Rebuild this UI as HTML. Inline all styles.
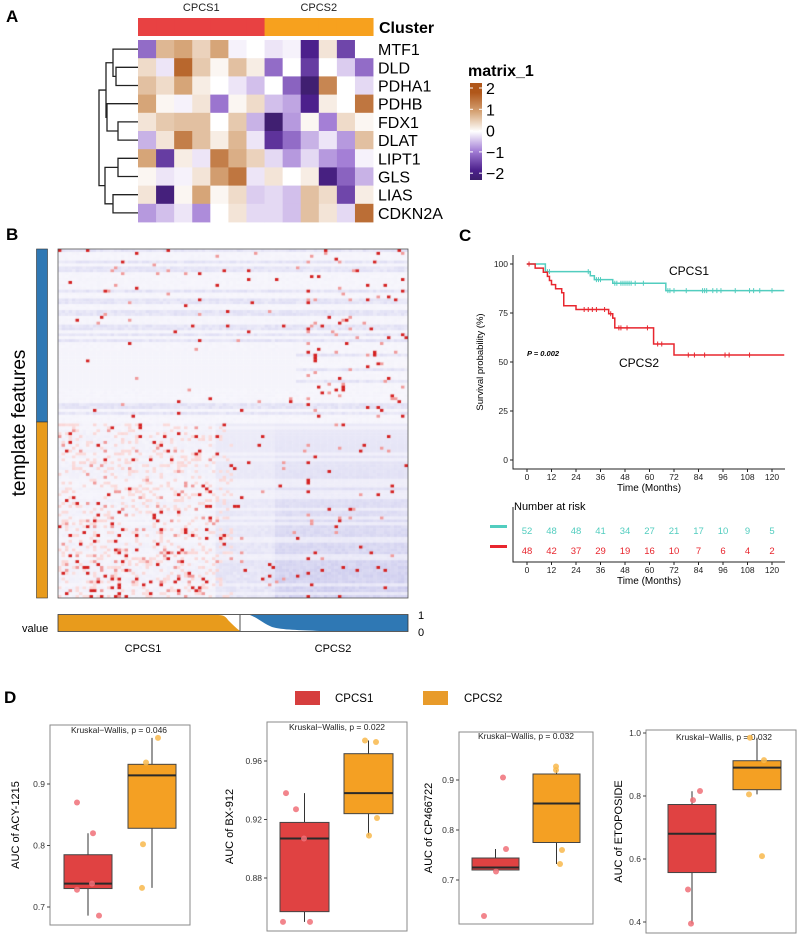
<!DOCTYPE html>
<html><head><meta charset="utf-8">
<style>
html,body{margin:0;padding:0;background:#fff;}
#wrap{position:relative;width:797px;height:935px;overflow:hidden;font-family:"Liberation Sans",Arial,sans-serif;}
svg{position:absolute;left:0;top:0;}
#hmB{position:absolute;left:58px;top:249px;}
</style></head><body>
<div id="wrap">
<canvas id="hmB" width="350" height="349"></canvas>
<svg id="fig" width="797" height="935" xmlns="http://www.w3.org/2000/svg" font-family="Liberation Sans, Arial, sans-serif">
  <g font-weight="bold" font-size="17" fill="#000">
    <text x="6" y="22">A</text>
    <text x="6" y="240">B</text>
    <text x="459" y="241">C</text>
    <text x="4" y="703">D</text>
  </g>
  <g id="gA"></g>
  <g id="gB"></g>
  <g id="gC"></g>
  <g id="gD"></g>
</svg>
</div>
<script>
// ---------- Panel A data ----------
const genes = ["MTF1","DLD","PDHA1","PDHB","FDX1","DLAT","LIPT1","GLS","LIAS","CDKN2A"];
const sampleCluster = [1,1,1,1,1,1,1,2,2,2,2,2,2];
const expr_MTF1  = [-1.2,0.8,1.0,0.5,1.0,-0.1,0,-0.2,-0.1,-2,0.3,-1.6,0];
const expr_DLD   = [0.4,-0.2,1.8,0.6,0.1,0.7,0.2,-1.2,0,-1.7,0,-0.4,-1.2];
const expr_PDHA1 = [0.7,0.4,1.0,0.2,0,-0.2,-0.5,0,-1.3,-2.5,1.4,0,-0.3];
const expr_PDHB  = [1.0,0.1,-0.1,0.3,-1.1,0.1,0.4,-0.5,-0.7,-2,0.2,0,1.6];
const expr_FDX1  = [0.3,0.6,0.7,0.7,0,0.6,-0.6,-2.5,-0.8,0.1,-1.0,0.4,0.1];
const expr_DLAT  = [-0.6,0.3,1.5,0.7,0.2,0.8,-0.2,-1.8,-1.2,-0.6,-0.2,-0.8,0.7];
const expr_LIPT1 = [1.0,-1.7,0.2,-0.2,1.5,0.9,0.5,-0.3,-0.8,-0.3,-0.8,-1.0,-0.1];
const expr_GLS   = [0.1,-0.2,-0.1,0.3,1.1,1.6,-0.2,0.3,0,0.2,-2.2,-1.3,-0.6];
const expr_LIAS  = [0.3,-2.3,0.1,1.0,0.1,0.4,-0.4,-0.3,-0.5,0.7,0.4,-1.6,0.2];
const expr_CDKN2A= [-0.8,-0.5,-0.2,-0.9,0,0.3,-0.3,-0.3,-0.5,0.7,0.3,-0.3,1.7];
const exprRows = [expr_MTF1,expr_DLD,expr_PDHA1,expr_PDHB,expr_FDX1,expr_DLAT,expr_LIPT1,expr_GLS,expr_LIAS,expr_CDKN2A];
const legendTicks = [2,1,0,-1,-2];

// ---------- Panel C data ----------
const km1Times = [0,9,31,33,42,68,126];
const km1Surv  = [100,96.1,94,92,90.2,86.4,86.4];
const km1Cens  = [10,11,30,34,35,36,43,44,46,47,48,49,50,51,53,57,69,70,72,78,86,87,88,91,93,95,102,109,111,114,120];
const km2Times = [0,4,8,10,11,12,14,17,18,24,40,42,43,62,72,126];
const km2Surv  = [100,97.9,95.8,93.7,91.6,89.5,87.4,85.3,78.7,76.8,74.6,72.4,67.4,59.2,53.6,53.6];
const km2Cens  = [1,28,30,32,34,38,41,45,46,49,59,64,66,79,82,87,97,99,109];
const riskTimes = [0,12,24,36,48,60,72,84,96,108,120];
const risk1 = [52,48,48,41,34,27,21,17,10,9,5];
const risk2 = [48,42,37,29,19,16,10,7,6,4,2];
const yTicksC = [0,25,50,75,100];

// ---------- Panel D data ----------
const drugs = ["ACY-1215","BX-912","CP466722","ETOPOSIDE"];
const pvals = ["0.046","0.022","0.032","0.032"];
const box1Red = [0.686,0.730,0.738,0.785,0.820];
const box1Org = [0.731,0.828,0.914,0.932,0.975];
const pts1Red = [0.870,0.820,0.686,0.728,0.738];
const pts1Org = [0.975,0.935,0.802,0.731];
const box2Red = [0.850,0.857,0.907,0.918,0.938];
const box2Org = [0.909,0.924,0.938,0.965,0.974];
const pts2Red = [0.938,0.927,0.907,0.850,0.850];
const pts2Org = [0.974,0.973,0.921,0.909];
const box3Red = [0.720,0.720,0.725,0.744,0.762];
const box3Org = [0.732,0.775,0.853,0.912,0.920];
const pts3Red = [0.905,0.762,0.717,0.628];
const pts3Org = [0.927,0.920,0.760,0.732];
const box4Red = [0.395,0.557,0.680,0.773,0.815];
const box4Org = [0.805,0.820,0.890,0.912,0.985];
const pts4Red = [0.787,0.816,0.503,0.395];
const pts4Org = [0.985,0.914,0.805,0.609];
const ticks1 = [0.7,0.8,0.9];
const ticks2 = [0.88,0.92,0.96];
const ticks3 = [0.7,0.8,0.9];
const ticks4 = [0.4,0.6,0.8,1.0];

const NS="http://www.w3.org/2000/svg";
function mk(parent,tag,attrs,text){const e=document.createElementNS(NS,tag);for(const k in attrs)e.setAttribute(k,attrs[k]);if(text!==undefined)e.textContent=text;parent.appendChild(e);return e;}

// ---------- Panel A ----------
(function(){
  const g=document.getElementById('gA');
  const x0=138,y0=40,cw=18.08,ch=18.2;
  const stops=[[-2.6,[61,31,107]],[-2,[76,32,140]],[-1,[164,127,214]],[0,[255,255,255]],[1,[214,165,120]],[2,[176,87,26]]];
  function col(v){if(v<=stops[0][0])return 'rgb('+stops[0][1]+')';
    for(let i=0;i<stops.length-1;i++){const a=stops[i],b=stops[i+1];if(v<=b[0]){const t=(v-a[0])/(b[0]-a[0]);return 'rgb('+a[1].map((c,j)=>Math.round(c+(b[1][j]-c)*t)).join(',')+')';}}
    return 'rgb('+stops[stops.length-1][1]+')';}
  const cl=mk(g,'g',{});
  
  sampleCluster.forEach((c,i)=>{const r=mk(cl,'rect',{x:x0+i*cw,y:18,width:cw+0.5,height:18,fill:c===1?'#e84142':'#f7a11e'});
    });
  const t1=mk(g,'text',{x:x0+3.5*cw,y:11,'font-size':11,'text-anchor':'middle',fill:'#222'},'CPCS1');
  
  const t2=mk(g,'text',{x:x0+10*cw,y:11,'font-size':11,'text-anchor':'middle',fill:'#222'},'CPCS2');
  
  const tc=mk(g,'text',{x:379,y:33,'font-size':16,'font-weight':'bold'},'Cluster');
  
  exprRows.forEach((row,r)=>{
    row.forEach((v,c)=>{const e=mk(g,'rect',{x:x0+c*cw,y:y0+r*ch,width:cw+0.4,height:ch+0.4,fill:col(v)});
      });
    const l=mk(g,'text',{x:378,y:y0+r*ch+ch/2+6,'font-size':16},genes[r]);
    
  });
  const yc=r=>y0+r*ch+ch/2;
  const d=`M138 ${yc(0)}H113V${yc(1.5)} M138 ${yc(1)}H116V${yc(2)}H138 M113 ${yc(0)}V${yc(1.5)}H116
  M138 ${yc(3)}H107V${yc(4.5)}H118 M138 ${yc(4)}H118V${yc(5)}H138
  M113 ${(yc(0)+yc(1.5))/2}H106V${(yc(3)+yc(4.5))/2}H107
  M138 ${yc(6)}H118V${yc(7)}H138 M138 ${yc(8)}H113V${yc(9)}H138
  M118 ${yc(6.5)}H105V${yc(8.5)}H113
  M106 ${((yc(0)+yc(1.5))/2+(yc(3)+yc(4.5))/2)/2}H99V${yc(7.5)}H105`;
  const dp=mk(g,'path',{d:d,fill:'none',stroke:'#222','stroke-width':1.3});
  
  const lt=mk(g,'text',{x:468,y:76,'font-size':16,'font-weight':'bold'},'matrix_1');
  
  const defs=mk(g,'defs',{});const gr=mk(defs,'linearGradient',{id:'gradA',x1:0,y1:0,x2:0,y2:1});
  [[2.3,0],[2,0.1],[1,0.3],[0,0.5],[-1,0.7],[-2,0.9],[-2.6,1]].forEach(s=>mk(gr,'stop',{offset:s[1],'stop-color':col(s[0])}));
  const cb=mk(g,'rect',{x:470,y:83,width:12,height:97,fill:'url(#gradA)'});
  
  legendTicks.forEach((v,i)=>{const y=88+(2-v)*21.3;
    mk(g,'line',{x1:470,x2:473,y1:y,y2:y,stroke:'#fff'});mk(g,'line',{x1:479,x2:482,y1:y,y2:y,stroke:'#fff'});
    const t=mk(g,'text',{x:486,y:y+6,'font-size':16},v<0?'\u2212'+(-v):String(v));
    });
})();

// ---------- Panel B ----------
(function(){
  const cv=document.getElementById('hmB');const ctx=cv.getContext('2d');
  function h(a,b){let x=(a*374761393+b*668265263)|0;x=(x^(x>>>13))*1274126177|0;x=x^(x>>>16);return ((x>>>0)%100000)/100000;}
  const nr=120,nc=100,cw=3.5,chh=349/nr;
  for(let r=0;r<nr;r++){const stripe=h(r,999);
    for(let c=0;c<nc;c++){
      const u=h(r,c),w=h(c+500,r+77);let col;
      const bottom=r>=60;let blue=0,red=0;
      if(!bottom){blue=stripe<0.3?0.12+0.15*w:0.03*w; red=(c>70?0.05:0.018); if(c===71&&r>20)red=0.25; if(r>34&&r<48&&c<68){blue=0.02;red=0.004;}}
      else{const depth=(r-60)/60;
        if(c<45){red=0.04+0.07*depth;blue=0.08*w;}
        else if(c<62){red=0.03;blue=0.12+0.15*depth*w;}
        else{red=0.025;blue=0.15+0.35*depth*(0.5+0.5*w);}
        if(stripe<0.25)blue*=0.4; if(c===71)red=0.2;}
      if(u<red){col=u<red*0.6?'#d42020':'#f09a9a';}
      else if(bottom&&c<50&&w<0.2){col='rgb(250,'+(222-Math.round(40*w))+','+(222-Math.round(40*w))+')';}
      else{const b=Math.min(blue,0.7);col='rgb('+Math.round(247-90*b)+','+Math.round(246-90*b)+','+Math.round(252-30*b)+')';}
      ctx.fillStyle=col;ctx.fillRect(c*cw,r*chh,cw+0.3,chh+0.3);
    }}
  const g=document.getElementById('gB');
  const fr=mk(g,'rect',{x:58,y:249,width:350,height:349,fill:'none',stroke:'#555','stroke-width':0.8});
  
  const b1=mk(g,'rect',{x:36.5,y:249,width:11,height:173,fill:'#2f78b4',stroke:'#333','stroke-width':0.6});
  
  const b2=mk(g,'rect',{x:36.5,y:422,width:11,height:176,fill:'#e89b1c',stroke:'#333','stroke-width':0.6});
  
  const tf=mk(g,'text',{x:0,y:0,'font-size':19,'text-anchor':'middle',transform:'translate(25,423) rotate(-90)'},'template features');
  
  const o=mk(g,'path',{d:'M58 631V615H218C224 615 226 617 228 620C232 624 236 628 240 631Z',fill:'#e89b1c'});
  
  const bl=mk(g,'path',{d:'M250 615C258 618 264 624 272 627C282 630 300 630 320 631H408V615Z',fill:'#2f78b4'});
  
  mk(g,'rect',{x:58,y:614.5,width:350,height:17,fill:'none',stroke:'#333','stroke-width':0.8});
  mk(g,'line',{x1:240,x2:240,y1:615,y2:631,stroke:'#222','stroke-width':0.8});
  [['1',418,619],['0',418,636],['value',22,632]].forEach(a=>{const t=mk(g,'text',{x:a[1],y:a[2],'font-size':11},a[0]);
    });
  const c1=mk(g,'text',{x:143,y:652,'font-size':11,'text-anchor':'middle'},'CPCS1');
  
  const c2=mk(g,'text',{x:333,y:652,'font-size':11,'text-anchor':'middle'},'CPCS2');
  
})();

// ---------- Panel C ----------
(function(){
  const g=document.getElementById('gC');
  const xs=t=>527+t*245/120, ys=s=>460-s*1.96;
  mk(g,'path',{d:'M513 255V469H785',fill:'none',stroke:'#222','stroke-width':1});
  yTicksC.forEach(v=>{mk(g,'line',{x1:510,x2:513,y1:ys(v),y2:ys(v),stroke:'#222'});
    const t=mk(g,'text',{x:508,y:ys(v)+3,'font-size':8.5,'text-anchor':'end',fill:'#222'},String(v));
    });
  riskTimes.forEach(v=>{mk(g,'line',{x1:xs(v),x2:xs(v),y1:469,y2:472,stroke:'#222'});
    const t=mk(g,'text',{x:xs(v),y:480,'font-size':8.5,'text-anchor':'middle',fill:'#222'},String(v));
    });
  const xt=mk(g,'text',{x:649,y:491,'font-size':10,'text-anchor':'middle'},'Time (Months)');
  
  const yt=mk(g,'text',{x:0,y:0,'font-size':9.5,'text-anchor':'middle',transform:'translate(483,362) rotate(-90)'},'Survival probability (%)');
  
  function stepD(ts,ss){let d='M'+xs(ts[0])+' '+ys(ss[0]);for(let i=1;i<ts.length;i++){d+='H'+xs(ts[i])+'V'+ys(ss[i]);}return d;}
  function survAt(ts,ss,t){let s=ss[0];for(let i=0;i<ts.length;i++)if(ts[i]<=t)s=ss[i];return s;}
  [[km1Times,km1Surv,km1Cens,'#52cdbf','km-curve-cpcs1'],[km2Times,km2Surv,km2Cens,'#e8262e','km-curve-cpcs2']].forEach(k=>{
    const p=mk(g,'path',{d:stepD(k[0],k[1]),fill:'none',stroke:k[3],'stroke-width':1.5});
    
    k[2].forEach(t=>{const x=xs(t),y=ys(survAt(k[0],k[1],t));
      const c=mk(g,'path',{d:`M${x-2.5} ${y}H${x+2.5}M${x} ${y-2.5}V${y+2.5}`,stroke:k[3],'stroke-width':1});
      });
  });
  const l1=mk(g,'text',{x:669,y:275,'font-size':12},'CPCS1');
  
  const l2=mk(g,'text',{x:619,y:367,'font-size':12},'CPCS2');
  
  const pv=mk(g,'text',{x:527,y:356,'font-size':7.5,'font-style':'italic','font-weight':'bold'},'P = 0.002');
  
  const nr=mk(g,'text',{x:514,y:510,'font-size':11},'Number at risk');
  
  mk(g,'path',{d:'M513 507V562H785',fill:'none',stroke:'#222','stroke-width':1});
  const lg1=mk(g,'rect',{x:490,y:525,width:17,height:3,fill:'#52cdbf'});
  
  const lg2=mk(g,'rect',{x:490,y:545,width:17,height:3,fill:'#e8262e'});
  
  riskTimes.forEach((v,i)=>{
    const a=mk(g,'text',{x:xs(v),y:534,'font-size':9.5,'text-anchor':'middle',fill:'#52cdbf'},String(risk1[i]));
    
    const b=mk(g,'text',{x:xs(v),y:554,'font-size':9.5,'text-anchor':'middle',fill:'#e8262e'},String(risk2[i]));
    
    mk(g,'line',{x1:xs(v),x2:xs(v),y1:562,y2:565,stroke:'#222'});
    const t=mk(g,'text',{x:xs(v),y:573,'font-size':8.5,'text-anchor':'middle',fill:'#222'},String(v));
    });
  const xt2=mk(g,'text',{x:649,y:584,'font-size':10,'text-anchor':'middle'},'Time (Months)');
  
})();

// ---------- Panel D ----------
(function(){
  const g=document.getElementById('gD');
  const lr=mk(g,'rect',{x:295,y:691,width:25,height:14,fill:'#d63e3e'});
  
  const lt1=mk(g,'text',{x:335,y:702,'font-size':11.5},'CPCS1');
  
  const lo=mk(g,'rect',{x:423,y:691,width:25,height:14,fill:'#e89b2a'});
  
  const lt2=mk(g,'text',{x:464,y:702,'font-size':11.5},'CPCS2');
  
  const panels=[
    {f:[50,725,140,200],v:[0.7,907,0.9,784],rx:[64,112],ox:[128,176],ptxR:[77,93,99,77,92],ptxO:[158,146,143,142],lab:19,box:[box1Red,box1Org],pts:[pts1Red,pts1Org],ticks:ticks1,kw:[119,733]},
    {f:[267,722,140,209],v:[0.88,878,0.96,761],rx:[280,329],ox:[344,393],ptxR:[286,296,304,283,310],ptxO:[365,376,377,369],lab:233,box:[box2Red,box2Org],pts:[pts2Red,pts2Org],ticks:ticks2,kw:[337,730]},
    {f:[459,732,134,192],v:[0.7,880,0.9,780],rx:[472,519],ox:[533,580],ptxR:[503,506,496,484],ptxO:[556,556,562,560],lab:432,box:[box3Red,box3Org],pts:[pts3Red,pts3Org],ticks:ticks3,kw:[526,739]},
    {f:[646,730,150,203],v:[0.4,922,1.0,733],rx:[668,716],ox:[733,781],ptxR:[693,700,688,691],ptxO:[750,764,749,762],lab:622,box:[box4Red,box4Org],pts:[pts4Red,pts4Org],ticks:ticks4,kw:[724,740]}];
  panels.forEach((p,k)=>{
    const sub=mk(g,'g',{});
    
    const ys=v=>p.v[1]+(v-p.v[0])*(p.v[3]-p.v[1])/(p.v[2]-p.v[0]);
    mk(sub,'rect',{x:p.f[0],y:p.f[1],width:p.f[2],height:p.f[3],fill:'#fff',stroke:'#8a8a8a','stroke-width':1});
    p.ticks.forEach(v=>{const y=ys(v);mk(sub,'line',{x1:p.f[0]-3,x2:p.f[0],y1:y,y2:y,stroke:'#444'});
      const t=mk(sub,'text',{x:p.f[0]-5,y:y+3,'font-size':8.5,'text-anchor':'end',fill:'#333'},v.toFixed(k===1?2:1));
      });
    const yl=mk(sub,'text',{x:0,y:0,'font-size':11,'text-anchor':'middle',transform:`translate(${p.lab},${p.f[1]+p.f[3]/2}) rotate(-90)`},'AUC of '+drugs[k]);
    
    const kt=mk(sub,'text',{x:p.kw[0],y:p.kw[1],'font-size':8.5,'text-anchor':'middle',fill:'#222'},'Kruskal\u2212Wallis, p = '+pvals[k]);
    
    [[p.box[0],p.rx,'#e04242','box-cpcs1'],[p.box[1],p.ox,'#f4a023','box-cpcs2']].forEach(b=>{
      const s=b[0],cx=(b[1][0]+b[1][1])/2;
      mk(sub,'line',{x1:cx,x2:cx,y1:ys(s[0]),y2:ys(s[4]),stroke:'#333','stroke-width':1});
      const r=mk(sub,'rect',{x:b[1][0],y:ys(s[3]),width:b[1][1]-b[1][0],height:ys(s[1])-ys(s[3]),fill:b[2],stroke:'#444','stroke-width':1});
      
      mk(sub,'line',{x1:b[1][0],x2:b[1][1],y1:ys(s[2]),y2:ys(s[2]),stroke:'#2a2a2a','stroke-width':2});
    });
    p.pts[0].forEach((v,i)=>{const c=mk(sub,'circle',{cx:p.ptxR[i],cy:ys(v),r:3,fill:'#f07078','fill-opacity':0.85});
      });
    p.pts[1].forEach((v,i)=>{const c=mk(sub,'circle',{cx:p.ptxO[i],cy:ys(v),r:3,fill:'#f8b94c','fill-opacity':0.85});
      });
  });
})();
</script>
</body></html>
